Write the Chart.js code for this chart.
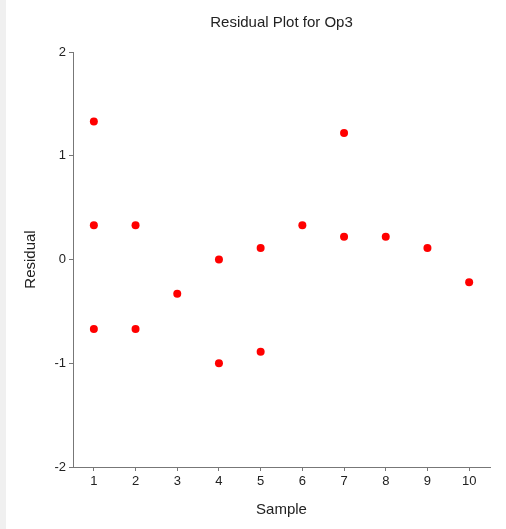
<!DOCTYPE html>
<html>
<head>
<meta charset="utf-8">
<script src="https://cdn.jsdelivr.net/npm/chart.js@4/dist/chart.umd.min.js"></script>
<style>
  html, body { margin: 0; padding: 0; background: #fff; }
  #wrap { position: relative; width: 506px; height: 529px; }
  #strip { position: absolute; left: 0; top: 0; width: 6px; height: 529px; background: #f0f0f0; }
  canvas { position: absolute; left: 0; top: 0; }
</style>
</head>
<body>
<div id="wrap">
  <div id="strip"></div>
  <canvas id="residualChart" width="506" height="529"></canvas>
</div>
<script>
// residuals, one entry per dot
const sampleNo = [1, 1, 1, 2, 2, 3, 4, 4, 5, 5, 6, 7, 7, 8, 9, 10];
const residual = [1.33, 0.33, -0.67, 0.33, -0.67, -0.33, 0.0, -1.0, 0.11, -0.89, 0.33, 1.22, 0.22, 0.22, 0.11, -0.22];
const xTicks = [1, 2, 3, 4, 5, 6, 7, 8, 9, 10];
const yTicks = [-2, -1, 0, 1, 2];

const axisColor = "#777";
const fontFamily = "'Liberation Sans', Arial, sans-serif";

const points = sampleNo.map((x, i) => ({ x: x, y: residual[i] }));

const ctx = document.getElementById("residualChart").getContext("2d");
new Chart(ctx, {
    type: "scatter",
    data: {
        datasets: [{
            data: points,
            backgroundColor: "#ff0000",
            borderColor: "#ff0000",
            borderWidth: 0,
            pointRadius: 4,
            pointHoverRadius: 4,
        }],
    },
    options: {
        responsive: false,
        animation: false,
        layout: { padding: { left: 0, right: 16, top: 0, bottom: 0 } },
        plugins: {
            legend: { display: false },
            tooltip: { enabled: false },
            title: {
                display: true,
                text: "Residual Plot for Op3",
                fullSize: false,
                color: "#222",
                font: { family: fontFamily, size: 15, weight: "normal" },
                padding: { top: 13.5, bottom: 20.5 },
            },
        },
        scales: {
            x: {
                type: "linear",
                min: 0.5,
                max: 10.5,
                afterBuildTicks: (s) => { s.ticks = xTicks.map((v) => ({ value: v })); },
                afterFit: (s) => { s.height = 62; },
                ticks: { color: "#222", padding: 3, font: { family: fontFamily, size: 13 } },
                grid: { display: true, drawOnChartArea: false, drawTicks: true, tickLength: 4, color: axisColor },
                border: { display: true, color: axisColor, width: 1 },
                title: {
                    display: true,
                    text: "Sample",
                    color: "#222",
                    font: { family: fontFamily, size: 15 },
                    padding: { top: 0, bottom: 10 },
                },
            },
            y: {
                type: "linear",
                min: yTicks[0],
                max: yTicks[yTicks.length - 1],
                afterBuildTicks: (s) => { s.ticks = yTicks.map((v) => ({ value: v })); },
                afterFit: (s) => { s.width = 73; },
                ticks: { color: "#222", padding: 3, font: { family: fontFamily, size: 13 } },
                grid: { display: true, drawOnChartArea: false, drawTicks: true, tickLength: 4, color: axisColor },
                border: { display: true, color: axisColor, width: 1 },
                title: {
                    display: true,
                    text: "Residual",
                    color: "#222",
                    font: { family: fontFamily, size: 15 },
                    padding: { top: 21.5, bottom: 0 },
                },
            },
        },
    },
});
</script>
</body>
</html>
